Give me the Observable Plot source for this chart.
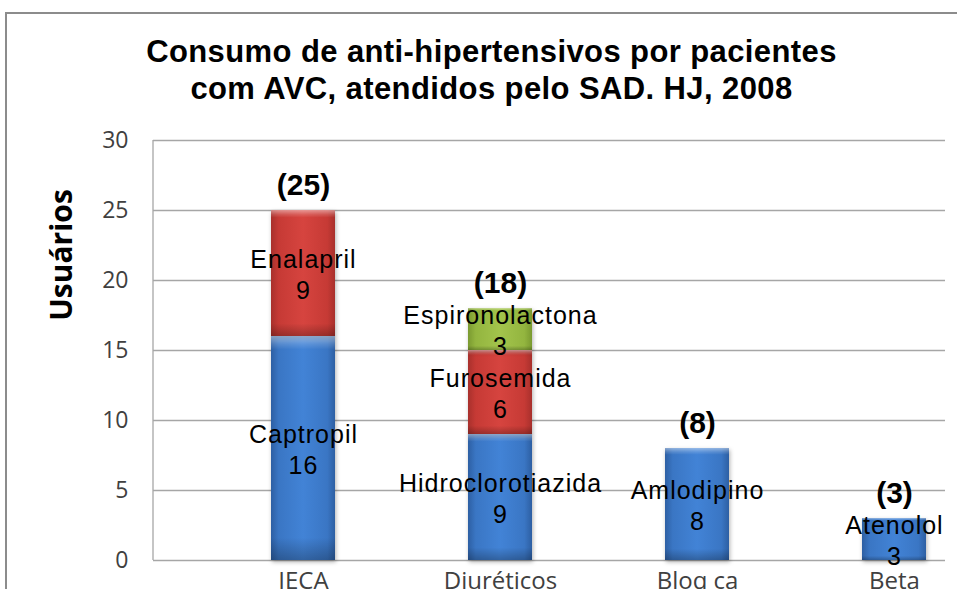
<!DOCTYPE html>
<html><head><meta charset="utf-8">
<script src="https://cdn.jsdelivr.net/npm/d3@7"></script>
<script src="https://cdn.jsdelivr.net/npm/@observablehq/plot@0.6"></script>
<style>
html,body{margin:0;padding:0;overflow:hidden;background:#fff;}
#wrap{position:relative;width:957px;height:589px;overflow:hidden;}
#border{position:absolute;left:5px;top:12px;width:1100px;height:1100px;border:2px solid #8c8c8c;box-sizing:border-box;}
#chart{position:absolute;left:0;top:0;}
#title{position:absolute;left:0;top:33px;width:983px;text-align:center;font:bold 31px "Liberation Sans";letter-spacing:0.4px;line-height:37px;color:#000;}
#ylab{position:absolute;left:60px;top:255px;transform:translate(-50%,-50%) rotate(-90deg);font:bold 30px "Open Sans";white-space:nowrap;color:#000;}
#chart rect[fill^="url(#gB"],#chart rect[fill^="url(#gR"],#chart rect[fill^="url(#gG"]{filter:drop-shadow(1px 2px 2px rgba(0,0,0,.3));}
#chart g[font-size="25"] text{letter-spacing:1px;}
</style></head><body>
<div id="wrap"><div id="border"></div><div id="chart"></div>
<div id="title">Consumo de anti-hipertensivos por pacientes<br>com AVC, atendidos pelo SAD. HJ, 2008</div>
<div id="ylab">Usuários</div></div>
<script>
const classes = ["IECA", "Diuréticos", "Bloq ca", "Beta"];
const drugs = ["Captropil", "Enalapril", "Hidroclorotiazida", "Furosemida", "Espironolactona", "Amlodipino", "Atenolol"];
const drugClass = ["IECA", "IECA", "Diuréticos", "Diuréticos", "Diuréticos", "Bloq ca", "Beta"];
const users = [16, 9, 9, 6, 3, 8, 3];
const yTicks = [0, 5, 10, 15, 20, 25, 30];

const layer = drugs.map((d, i) => drugClass.slice(0, i).filter(c => c === drugClass[i]).length);
const data = drugs.map((d, i) => ({drug: d, cls: drugClass[i], users: users[i], layer: layer[i]}));

function decor(index, scales, values, dims) {
  const g = d3.create("svg:g");
  const defs = g.append("defs");
  const grad = (id, stops, vertical) => {
    const lg = defs.append("linearGradient").attr("id", id)
      .attr("x1", 0).attr("y1", 0).attr("x2", vertical ? 0 : 1).attr("y2", vertical ? 1 : 0);
    stops.forEach(([o, c, op]) => lg.append("stop").attr("offset", o).attr("stop-color", c).attr("stop-opacity", op == null ? 1 : op));
  };
  grad("gBlue", [[0, "#2d5fa3"], [0.12, "#3a76c4"], [0.5, "#4283d6"], [0.88, "#3a76c4"], [1, "#2d5fa3"]]);
  grad("gRed", [[0, "#a8302c"], [0.12, "#c63a35"], [0.5, "#d6443f"], [0.88, "#c63a35"], [1, "#a8302c"]]);
  grad("gGreen", [[0, "#7a9a30"], [0.12, "#93b53f"], [0.5, "#a3c44c"], [0.88, "#93b53f"], [1, "#7a9a30"]]);
  grad("gShade", [[0, "#ffffff", 0.45], [0.035, "#ffffff", 0.15], [0.06, "#ffffff", 0], [0.9, "#000000", 0], [1, "#000000", 0.25]], true);
  g.append("line")
    .attr("x1", dims.marginLeft).attr("x2", dims.marginLeft)
    .attr("y1", scales.y(d3.min(yTicks))).attr("y2", scales.y(d3.max(yTicks)))
    .attr("stroke", "#a6a6a6").attr("stroke-width", 1.3);
  return g.node();
}

const chart = Plot.plot({
  width: 957, height: 610,
  marginLeft: 153, marginRight: 12, marginTop: 140, marginBottom: 50,
  style: {background: "none", overflow: "visible"},
  x: {domain: classes, range: [136, 1060], padding: 0.676, label: null},
  y: {domain: [0, 30], label: null},
  color: {type: "ordinal", domain: [0, 1, 2], range: ["url(#gBlue)", "url(#gRed)", "url(#gGreen)"]},
  marks: [
    decor,
    Plot.ruleY(yTicks, {stroke: "#a6a6a6", strokeWidth: 1.3}),
    Plot.axisY({ticks: yTicks, tickSize: 0, tickPadding: 25, fontSize: 23, fontFamily: "Open Sans", color: "#404040", fill: "#404040", label: null}),
    Plot.axisX({tickSize: 0, tickPadding: 11, fontSize: 24, fontFamily: "Open Sans", color: "#404040", fill: "#404040", label: null}),
    Plot.barY(data, Plot.stackY({x: "cls", y: "users", fill: "layer"})),
    Plot.barY(data, Plot.stackY({x: "cls", y: "users", fill: "url(#gShade)"})),
    Plot.text(data, Plot.stackY({x: "cls", y: "users", text: d => `${d.drug}\n${d.users}`, fontSize: 25, fontFamily: "Liberation Sans", lineHeight: 1.22, fill: "#000"})),
    Plot.text(data, Plot.groupX({y: "sum", text: v => `(${d3.sum(v)})`}, {x: "cls", y: "users", text: "users", dy: -25, fontSize: 30, fontWeight: "bold", fontFamily: "Liberation Sans", fill: "#000"}))
  ]
});
document.getElementById("chart").appendChild(chart);
</script>
</body></html>
